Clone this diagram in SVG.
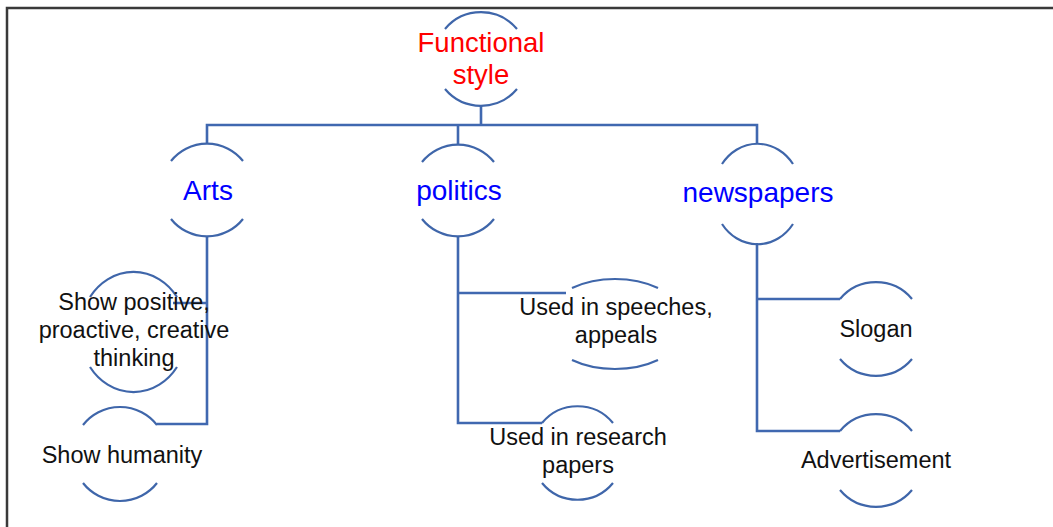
<svg xmlns="http://www.w3.org/2000/svg" width="1053" height="527" viewBox="0 0 1053 527">
<style>
.arc{fill:none;stroke:#3f66aa;stroke-width:2.2}
.con{fill:none;stroke:#4068b0;stroke-width:2.6}
.frame{fill:none;stroke:#3a3a3a;stroke-width:2.5}
text{font-family:"Liberation Sans",Arial,sans-serif;text-anchor:middle}
.root{fill:#ff0000;font-size:27.5px}
.cat{fill:#0000ff;font-size:28px}
.leaf{fill:#111;font-size:23.5px}
</style>
<rect width="1053" height="527" fill="#fff"/>
<path class="frame" d="M7,527 V8 H1053"/>
<g id="connectors">
<path class="con" d="M481,106 V125 M207,144 V125 H757 V144 M458,125 V145"/>
<path class="con" d="M207,236 V424 H157 M207,303 H173"/>
<path class="con" d="M458,237 V423 H542 M458,293 H566"/>
<path class="con" d="M757,243 V431 H840 M757,299 H840"/>
</g>
<g id="node-functional-style">
<path class="arc" d="M445,29 A47,47 0 0 1 517,29 M445,89 A47,47 0 0 0 517,89"/>
<text class="root" x="481" y="52">Functional</text>
<text class="root" x="481" y="84">style</text>
</g>
<g id="node-arts">
<path class="arc" d="M171,161 A46,46 0 0 1 243,161 M171,219 A46,46 0 0 0 243,219"/>
<text class="cat" x="208" y="200">Arts</text>
</g>
<g id="node-politics">
<path class="arc" d="M422,162 A46,46 0 0 1 494,162 M422,219 A46,46 0 0 0 494,219"/>
<text class="cat" x="459" y="200">politics</text>
</g>
<g id="node-newspapers">
<path class="arc" d="M722,164 A44,49.5 0 0 1 793,164 M722,224 A44,49.5 0 0 0 793,224"/>
<text class="cat" x="758" y="202">newspapers</text>
</g>
<g id="node-show-positive">
<path class="arc" d="M90,297 A53.5,60 0 0 1 177,297 M90,367 A53.5,60 0 0 0 177,367"/>
<text class="leaf" x="134" y="310">Show positive,</text>
<text class="leaf" x="134" y="338">proactive, creative</text>
<text class="leaf" x="134" y="366">thinking</text>
</g>
<g id="node-show-humanity">
<path class="arc" d="M83,425 A47,47 0 0 1 157,425 M83,483 A47,47 0 0 0 157,483"/>
<text class="leaf" x="122" y="463">Show humanity</text>
</g>
<g id="node-speeches">
<path class="arc" d="M572,288 A72,45.5 0 0 1 658,288 M572,360 A72,45.5 0 0 0 658,360"/>
<text class="leaf" x="616" y="315">Used in speeches,</text>
<text class="leaf" x="616" y="343">appeals</text>
</g>
<g id="node-research">
<path class="arc" d="M542,423 A46,46 0 0 1 613,423 M542,483 A46,46 0 0 0 613,483"/>
<text class="leaf" x="578" y="445">Used in research</text>
<text class="leaf" x="578" y="473">papers</text>
</g>
<g id="node-slogan">
<path class="arc" d="M840,299 A47,47 0 0 1 912,299 M840,359 A47,47 0 0 0 912,359"/>
<text class="leaf" x="876" y="337">Slogan</text>
</g>
<g id="node-advertisement">
<path class="arc" d="M840,431 A47,47 0 0 1 912,431 M840,490 A47,47 0 0 0 912,490"/>
<text class="leaf" x="876" y="468">Advertisement</text>
</g>
</svg>
